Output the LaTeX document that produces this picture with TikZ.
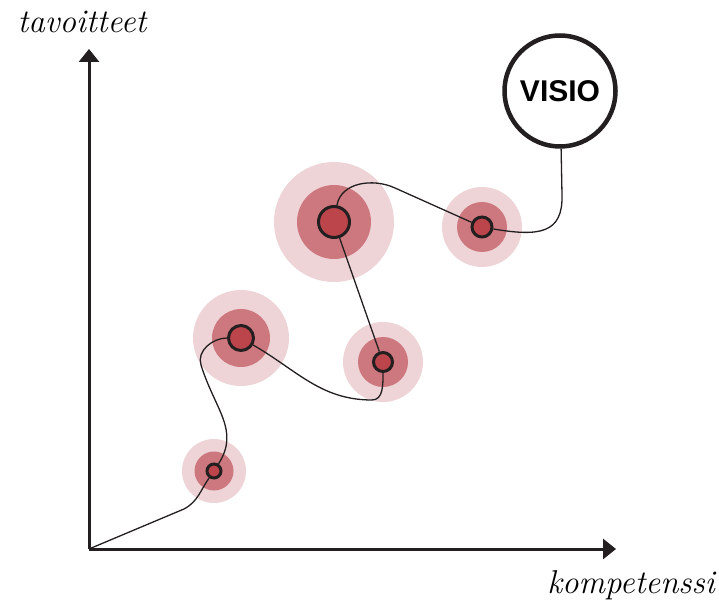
\documentclass[tikz,border=0pt]{standalone}
\usepackage{fontspec}
\setsansfont{Liberation Sans}
\usepackage{tikz}
\usetikzlibrary{
    arrows.meta,
    calc,
    positioning
}
\definecolor{ringlight}{RGB}{238,212,215}
\definecolor{ringmid}{RGB}{205,120,126}
\definecolor{dotred}{RGB}{187,69,75}
\definecolor{inkblack}{RGB}{35,31,32}
\pgfdeclarelayer{background}
\pgfsetlayers{background,main}
\tikzset{
    axis/.style={draw=inkblack, line width=3pt, -{Triangle[length=13pt,width=20pt]}},
    path line/.style={draw=inkblack, line width=1.3pt},
    dot/.style={circle, draw=inkblack, fill=dotred, line width=3pt, inner sep=0pt},
    goal/.style={circle, draw=inkblack, fill=white, line width=4.5pt, inner sep=0pt,
        minimum size=111pt, font=\sffamily\bfseries\fontsize{30}{36}\selectfont},
    axis label/.style={anchor=base, font=\itshape\fontsize{33}{40}\selectfont}
}
\begin{document}
\begin{tikzpicture}[x=1pt,y=1pt]
                        \useasboundingbox (0,0) rectangle (719,605);
                        \coordinate (o) at (89,56);
                        \coordinate (ytip) at (89,556);
                        \coordinate (xtip) at (616,56);
                        \draw[axis] (o) -- (ytip);
                        \draw[axis] (o) -- (xtip);
                        \node[axis label] (ylab) at (82,572) {tavoitteet};
                        \node[axis label] (xlab) at (631,12) {kompetenssi};
                        % osaamisen askeleet
                        \foreach \n/\x/\y/\a/\b/\c in {t1/214/134/8.5/19.5/32,
                                                       t2/241/267/14/29/48,
                                                       t3/383/243/11/25/40,
                                                       t4/334/383/17/37/60,
                                                       t5/482/378/11.5/25/40}{
                            \node[dot, minimum size={2*\a-3}] (\n) at (\x,\y) {};
                            \begin{pgfonlayer}{background}
                                \fill[ringlight] (\x,\y) circle (\c);
                                \fill[ringmid] (\x,\y) circle (\b);
                            \end{pgfonlayer}
                        }
                        \node[goal] (visio) at (560,514) {VISIO};
                        \coordinate (k1) at (184,96);
                        \coordinate (k3) at (201,240);
                        \coordinate (k4) at (372,205);
                        \coordinate (k5) at (395,417);
                        \coordinate (k6) at (562,410);
                        \draw[path line]
                        (o) -- (k1) to[out=28, in=235] (t1)
                        (t1) .. controls (240,175) and (215,195) .. (k3) to[out=108, in=180] (t2)
                        (t2) to[out=-30, in=180] (k4) to[out=0, in=-90] (t3)
                        (t3) -- (t4)
                        (t4) to[out=80, in=155] (k5) -- (t5)
                        (t5) .. controls (540,368) and (563,372) .. (k6) -- (visio);
                    \end{tikzpicture}
\end{document}
